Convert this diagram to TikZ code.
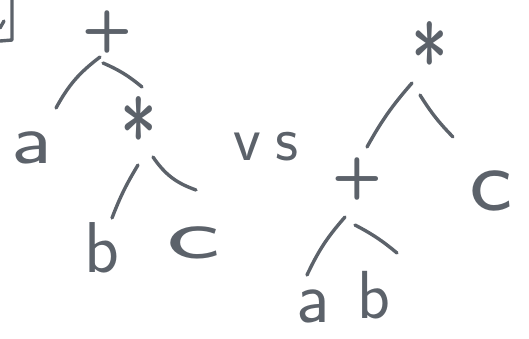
\documentclass[tikz,border=0pt]{standalone}
\usepackage{fontspec}
\begin{document}
\begin{tikzpicture}[x=1pt,y=-1pt,
  ink/.style={draw=inkc,line width=3.4pt,line cap=round,line join=round},
  lbl/.style={text=inkc,inner sep=0pt,anchor=base,font=\sffamily\fontsize{72}{72}\selectfont},
  opr/.style={text=inkc,inner sep=0pt,anchor=base,font=\sffamily\bfseries\fontsize{58}{58}\selectfont},
  ast/.style={text=inkc,inner sep=0pt,anchor=base,font=\sffamily\fontsize{78}{78}\selectfont}]
\definecolor{inkc}{RGB}{92,98,106}
\useasboundingbox (0,0) rectangle (529,338);
% corner fragment
\draw[ink] (12,0) -- (12,40) -- (0,41);
\draw[ink] (0,28) -- (4,21);
% left tree
\node[opr] (lp) at (107,46) {+};
\node[lbl,xscale=1.25] (la) at (32,163) {a};
\node[ast,yscale=1.3] (lt) at (139,172) {*};
\node[lbl] (lb) at (102,272) {b};
\node[lbl,xscale=1.8] (lc) at (194,258) {c};
\coordinate (lpa1) at (100,57); \coordinate (lpa2) at (56,108);
\coordinate (lpt1) at (103,63); \coordinate (lpt2) at (142,87);
\coordinate (ltb1) at (138,165); \coordinate (ltb2) at (112,218);
\coordinate (ltc1) at (153,157); \coordinate (ltc2) at (196,190);
\draw[ink] (lpa1) to[bend right=12] (lpa2);
\draw[ink] (lpt1) to[bend left=8] (lpt2);
\draw[ink] (ltb1) to[bend right=5] (ltb2);
\draw[ink] (ltc1) to[bend right=18] (ltc2);
% vs
\node[lbl,font=\sffamily\fontsize{64}{64}\selectfont] (vs) at (266,160) {v\kern14pt s};
% right tree
\node[ast,yscale=1.3] (rt) at (430,97) {*};
\node[opr] (rp) at (357,193) {+};
\node[lbl,font=\sffamily\fontsize{90}{90}\selectfont,xscale=1.15] (rc) at (491,210) {c};
\node[lbl,font=\sffamily\fontsize{74}{74}\selectfont] (ra) at (313,322) {a};
\node[lbl,font=\sffamily\fontsize{68}{68}\selectfont] (rb) at (374,318) {b};
\coordinate (rtp1) at (412,83); \coordinate (rtp2) at (367,147);
\coordinate (rtc1) at (420,95); \coordinate (rtc2) at (453,137);
\coordinate (rpa1) at (345,217); \coordinate (rpa2) at (307,275);
\coordinate (rpb1) at (355,225); \coordinate (rpb2) at (397,253);
\draw[ink] (rtp1) to[bend right=6] (rtp2);
\draw[ink] (rtc1) to[bend right=6] (rtc2);
\draw[ink] (rpa1) to[bend right=8] (rpa2);
\draw[ink] (rpb1) to[bend left=6] (rpb2);
\end{tikzpicture}
\end{document}
